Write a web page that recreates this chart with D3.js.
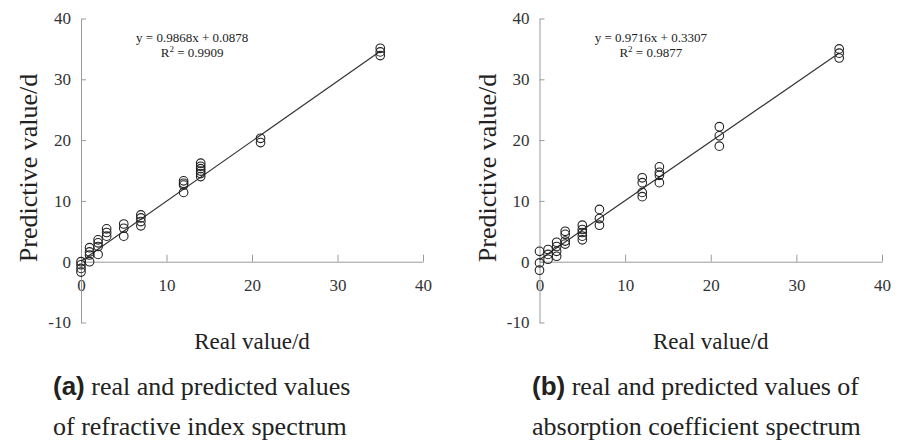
<!DOCTYPE html>
<meta charset="utf-8">
<script src="https://d3js.org/d3.v7.min.js"></script>
<style>
body{margin: 0; background: #fff;}
svg text{font-family: "Liberation Serif", "Times New Roman", serif; fill: #222;}
.axis path, .axis line{stroke: #9a9a9a;}
.axis text{font-size: 17px; fill: #333;}
.pt{fill: none; stroke: #222; stroke-width: 1.1;}
.fit{stroke: #333; stroke-width: 1.2;}
</style>

<div id="vis"></div>

<script>

// (a) refractive index spectrum
var realA = [0,0,0,0, 1,1,1,1, 2,2,2,2, 3,3,3, 5,5,5, 7,7,7,7,
             12,12,12,12, 14,14,14,14,14,14, 21,21, 35,35,35];
var predA = [0,-0.5,-1.1,-1.7, 2.3,1.6,1.1,0, 3.6,3.1,2.5,1.2, 5.4,4.8,4.2, 6.2,5.5,4.2, 7.7,7.2,6.6,5.9,
             13.3,12.9,12.6,11.4, 16.2,15.7,15.3,14.9,14.5,14.0, 20.3,19.6, 35.1,34.5,33.9];

// (b) absorption coefficient spectrum
var realB = [0,0,0, 1,1,1, 2,2,2,2, 3,3,3,3, 5,5,5,5,5, 7,7,7,
             12,12,12,12, 14,14,14,14, 21,21,21, 35,35,35];
var predB = [1.7,-0.2,-1.4, 2.0,1.2,0.4, 3.2,2.5,1.7,0.9, 5.0,4.5,3.4,2.9, 6.0,5.3,4.8,4.2,3.6, 8.6,7.1,6.0,
             13.8,13.0,11.4,10.7, 15.6,14.7,14.2,13.0, 22.2,20.7,19.0, 35.0,34.3,33.5];

// fit lines and captions
var slopes = [0.9868, 0.9716];
var intercepts = [0.0878, 0.3307];
var r2 = ["0.9909", "0.9877"];
var tags = ["(a)", "(b)"];
var captions = [[" real and predicted values", "of refractive index spectrum"],
                [" real and predicted values of", "absorption coefficient spectrum"]];

var xTicks = [0, 10, 20, 30, 40];
var yTicks = [-10, 0, 10, 20, 30, 40];

var w = 901, h = 443;
var serif = "'Liberation Serif', 'Times New Roman', serif";

var svg = d3.select("#vis")
            .append("svg")
            .attr("width", w)
            .attr("height", h);

var panels = [
  {x0: 81, x1: 423, capX: 53, real: realA, pred: predA},
  {x0: 539.5, x1: 882, capX: 532, real: realB, pred: predB}
];

panels.forEach(function(p, i) {
  var g = svg.append("g");

  var x = d3.scaleLinear().domain([0, 40]).range([p.x0, p.x1]);
  var y = d3.scaleLinear().domain([-10, 40]).range([322.5, 18.5]);

  // plain hyphen for negatives, like the original
  var fmt = function(d) { return String(d); };

  // axes: x axis sits on y = 0
  g.append("g")
      .attr("class", "axis")
      .attr("transform", "translate(0," + y(0) + ")")
      .call(d3.axisBottom(x).tickValues(xTicks).tickFormat(fmt)
              .tickSizeInner(-7).tickSizeOuter(0).tickPadding(17));

  g.append("g")
      .attr("class", "axis")
      .attr("transform", "translate(" + p.x0 + ",0)")
      .call(d3.axisLeft(y).tickValues(yTicks).tickFormat(fmt)
              .tickSizeInner(-5).tickSizeOuter(0).tickPadding(10));

  g.selectAll(".axis").attr("font-family", serif).attr("font-size", 17);
  g.selectAll(".axis text").style("font-family", serif);
  g.selectAll(".axis .domain").attr("stroke", "#9a9a9a");

  // fitted line
  var lo = d3.min(p.real), hi = d3.max(p.real);
  g.append("line")
      .attr("class", "fit")
      .attr("x1", x(lo)).attr("y1", y(slopes[i] * lo + intercepts[i]))
      .attr("x2", x(hi)).attr("y2", y(slopes[i] * hi + intercepts[i]));

  // points
  g.selectAll(".pt")
    .data(p.real)
  .enter().append("circle")
    .attr("class", "pt")
    .attr("cx", function(d) { return x(d); })
    .attr("cy", function(d, j) { return y(p.pred[j]); })
    .attr("r", 4.3);

  // equation
  var eqX = x(13);
  g.append("text")
      .attr("x", eqX).attr("y", 42)
      .attr("text-anchor", "middle")
      .style("font-size", "13px")
      .text("y = " + slopes[i] + "x + " + intercepts[i]);
  var r = g.append("text")
      .attr("x", eqX).attr("y", 57)
      .attr("text-anchor", "middle")
      .style("font-size", "13px");
  r.append("tspan").text("R");
  r.append("tspan").attr("dy", -5).style("font-size", "9px").text("2");
  r.append("tspan").attr("dy", 5).text(" = " + r2[i]);

  // axis titles
  g.append("text")
      .attr("x", (p.x0 + p.x1) / 2).attr("y", 349)
      .attr("text-anchor", "middle")
      .style("font-size", "23px")
      .text("Real value/d");

  g.append("text")
      .attr("transform", "translate(" + (p.x0 - 44) + ",168) rotate(-90)")
      .attr("text-anchor", "middle")
      .style("font-size", "26px")
      .text("Predictive value/d");

  // caption
  var c = g.append("text")
      .attr("x", p.capX).attr("y", 395)
      .style("font-size", "26px");
  c.append("tspan")
      .style("font-family", "'Liberation Sans', Arial, sans-serif")
      .style("font-weight", "bold")
      .text(tags[i]);
  c.append("tspan").text(captions[i][0]);

  g.append("text")
      .attr("x", p.capX).attr("y", 435)
      .style("font-size", "26px")
      .text(captions[i][1]);
});

</script>
